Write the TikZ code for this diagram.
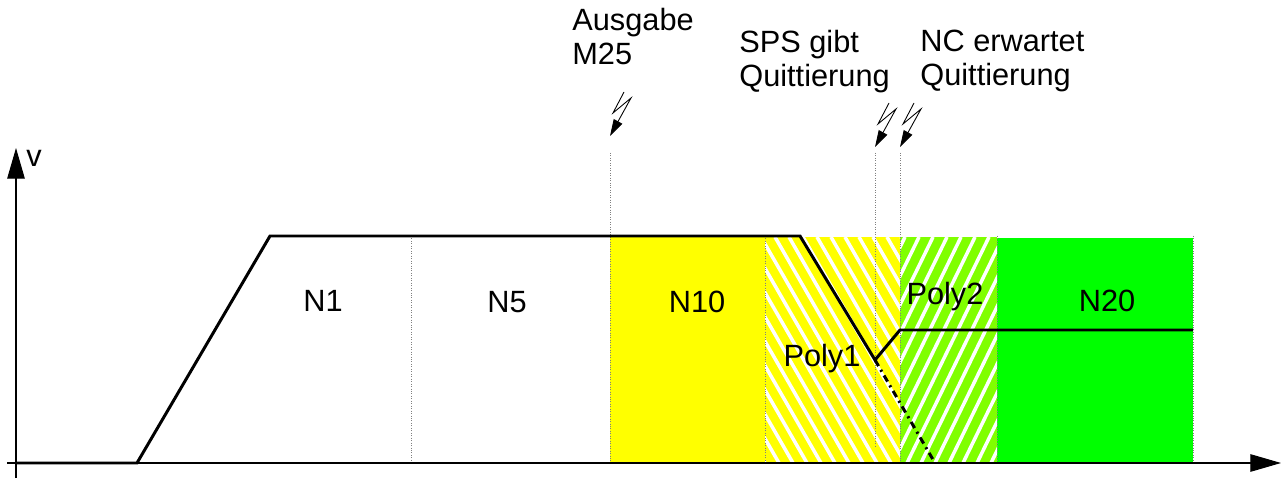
\documentclass[tikz,border=0pt]{standalone}
\usepackage{fontspec}
\setmainfont{Liberation Sans}
\usetikzlibrary{arrows.meta}
\definecolor{BlockYellow}{HTML}{FFFF00}
\definecolor{BlockLime}{HTML}{80FF00}
\definecolor{BlockGreen}{HTML}{00FF00}

\begin{document}
\begin{tikzpicture}[x=0.02cm, y=-0.02cm,
  lbl/.style={font=\fontsize{17.5}{19}\selectfont, inner sep=0pt},
  toplbl/.style={lbl, anchor=north west, align=left},
  grid/.style={gray, densely dotted, line width=0.4pt},
  prof/.style={line width=1.7pt, line join=miter},
  axis/.style={line width=0.6pt, -{Triangle[length=17.5pt,width=10pt]}},
  flash/.style={line width=0.5pt, -{Triangle[length=9.5pt,width=5.5pt]}},
  stripe/.style={white, line width=2pt}
]
\useasboundingbox (0,0) rectangle (1281,479);

% blocks
\fill[BlockYellow] (610,236) rectangle (765,463);
\fill[BlockYellow] (765,237) rectangle (900,463);
\fill[BlockLime] (900,237) rectangle (997,463);
\fill[BlockGreen] (997,238) rectangle (1193,463);
\begin{scope}
  \clip (765,237) rectangle (900,463);
  \foreach \s in {621,635,...,915}
    \draw[stripe] (\s,237) -- ++(130,226);
\end{scope}
\begin{scope}
  \clip (900,237) rectangle (997,463);
  \foreach \s in {905,919,...,1115}
    \draw[stripe] (\s,237) -- ++(-110,226);
\end{scope}

% block borders
\foreach \x in {411,765,997,1193}
  \draw[grid] (\x,236) -- (\x,463);
\draw[grid] (610,153) -- (610,463);
\draw[grid] (875,153) -- (875,448);
\draw[grid] (900,153) -- (900,463);

% axes
\draw[axis] (16,478) -- (16,148);
\draw[axis] (7,463) -- (1281,463);
\node[lbl] (v) at (34,158) {v};

% velocity
\coordinate (p0) at (16,463);
\coordinate (p1) at (137,463);
\coordinate (p2) at (270,236);
\coordinate (p3) at (800,236);
\coordinate (p4) at (875,360);
\coordinate (p5) at (900,330);
\coordinate (p6) at (1193,330);
\coordinate (pe) at (935,463);
\draw[prof] (p0) -- (p1) -- (p2) -- (p3) -- (p4) -- (p5) -- (p6);
\draw[prof, dash pattern=on 4pt off 2.5pt on 1.2pt off 2.5pt] (p4) -- (pe);

% signals
\foreach \tx/\ty in {610/136, 875/147, 900/147}
  \draw[flash] (\tx+14,\ty-44) -- (\tx+3,\ty-23) -- (\tx+21,\ty-38) -- (\tx,\ty);

\node[lbl] (n1) at (323,301) {N1};
\node[lbl] (n5) at (507,302) {N5};
\node[lbl] (n10) at (697,302) {N10};
\node[lbl] (poly1) at (822,359) {Poly1};
\node[lbl] (poly2) at (945,297) {Poly2};
\node[lbl] (n20) at (1107,301) {N20};

\node[toplbl] (m25) at (572,8) {Ausgabe\\M25};
\node[toplbl] (sps) at (739,30) {SPS gibt\\Quittierung};
\node[toplbl] (nc) at (920,30) {NC erwartet\\Quittierung};
\end{tikzpicture}
\end{document}
